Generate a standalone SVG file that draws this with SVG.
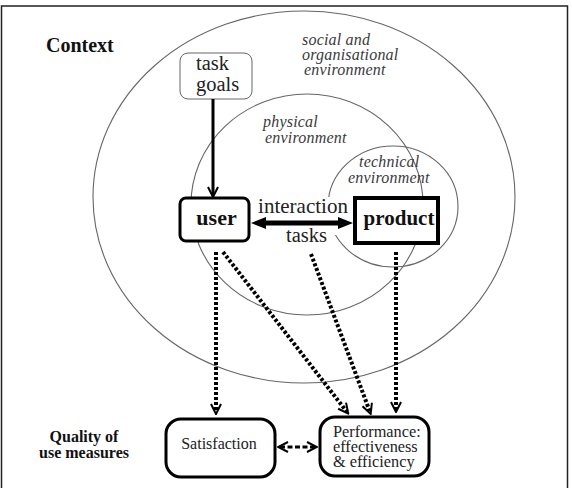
<svg xmlns="http://www.w3.org/2000/svg" width="572" height="488" viewBox="0 0 572 488">
<style>
.env{fill:none;stroke:#666;stroke-width:1.1}
.it{font-family:'Liberation Serif',serif;font-style:italic;font-size:16px;fill:#3a3a3a;letter-spacing:0.2px}
.rm{font-family:'Liberation Serif',serif;fill:#222}
.bd{font-family:'Liberation Serif',serif;font-weight:bold;fill:#111}
.box{fill:#fff;stroke:#000;stroke-width:3}
.dash{fill:none;stroke:#000;stroke-width:4;stroke-dasharray:3 2}
</style>
<defs>
<marker id="vee" viewBox="0 0 12 12" refX="9" refY="6" markerWidth="12" markerHeight="12" markerUnits="userSpaceOnUse" orient="auto-start-reverse">
<path d="M1,1 L11,6 L1,11" fill="none" stroke="#000" stroke-width="2"/>
</marker>
<marker id="tri" viewBox="0 0 15 12" refX="3" refY="6" markerWidth="15" markerHeight="12" markerUnits="userSpaceOnUse" orient="auto-start-reverse">
<path d="M0,0 L15,6 L0,12 z" fill="#000"/>
</marker>
</defs>
<rect x="0" y="0" width="572" height="488" fill="#fff"/>
<rect x="1.5" y="6" width="566" height="490" fill="none" stroke="#222" stroke-width="1.5"/>

<g id="environments">
<ellipse class="env" cx="304" cy="197" rx="211" ry="186"/>
<ellipse class="env" cx="307" cy="204.5" rx="116" ry="110.5"/>
<ellipse class="env" cx="393" cy="206.5" rx="65" ry="60.5"/>
<rect x="256" y="197" width="94" height="38" fill="#fff"/>
<text class="it" x="302" y="45">social and</text>
<text class="it" x="302" y="60">organisational</text>
<text class="it" x="304" y="75">environment</text>
<text class="it" x="263" y="127">physical</text>
<text class="it" x="265" y="143">environment</text>
<text class="it" x="359" y="167">technical</text>
<text class="it" x="348" y="183">environment</text>
</g>

<g id="context-label">
<text class="bd" x="46" y="52" font-size="20">Context</text>
</g>
<g id="quality-label">
<text class="bd" x="84" y="442" font-size="16" text-anchor="middle">Quality of</text>
<text class="bd" x="84" y="458" font-size="16" text-anchor="middle">use measures</text>
</g>

<g id="task-goals">
<rect x="180" y="53" width="72" height="46" rx="8" fill="#fff" stroke="#666" stroke-width="1"/>
<text class="rm" x="196" y="70" font-size="20.5">task</text>
<text class="rm" x="196" y="91" font-size="20.5">goals</text>
</g>

<g id="user">
<rect class="box" x="180" y="198" width="69" height="43" rx="6"/>
<text class="bd" x="216.5" y="225" font-size="22" text-anchor="middle">user</text>
</g>

<g id="product">
<rect x="355" y="198" width="83" height="45" fill="#fff" stroke="#000" stroke-width="4"/>
<text class="bd" x="399" y="225" font-size="21" text-anchor="middle">product</text>
</g>

<g id="satisfaction">
<rect class="box" x="166" y="419" width="109" height="58" rx="15"/>
<text class="rm" x="219" y="449" font-size="16" text-anchor="middle" fill="#333">Satisfaction</text>
</g>

<g id="performance">
<rect class="box" x="320" y="417" width="109" height="59" rx="15"/>
<text class="rm" x="333" y="437" font-size="16.3" fill="#333">Performance:</text>
<text class="rm" x="333" y="452" font-size="16.3" fill="#333">effectiveness</text>
<text class="rm" x="333" y="467" font-size="16.3" fill="#333">&amp; efficiency</text>
</g>

<g id="connectors">
<path d="M213,99 L213,195" fill="none" stroke="#000" stroke-width="3" marker-end="url(#vee)"/>
<path d="M263,223 L341,223" fill="none" stroke="#000" stroke-width="5" marker-start="url(#tri)" marker-end="url(#tri)"/>
<text class="rm" x="303" y="213" font-size="21" text-anchor="middle">interaction</text>
<text class="rm" x="306.5" y="242" font-size="20.5" text-anchor="middle" fill="#333">tasks</text>
<path class="dash" d="M216,252 L216,412" marker-end="url(#vee)"/>
<path class="dash" d="M223,252 L347,412" marker-end="url(#vee)"/>
<path class="dash" d="M311,254 L370,412" marker-end="url(#vee)"/>
<path class="dash" d="M396,252 L396,410" marker-end="url(#vee)"/>
<path d="M280,447 L315,447" fill="none" stroke="#000" stroke-width="3" stroke-dasharray="5 2.5" marker-start="url(#vee)" marker-end="url(#vee)"/>
</g>
</svg>
